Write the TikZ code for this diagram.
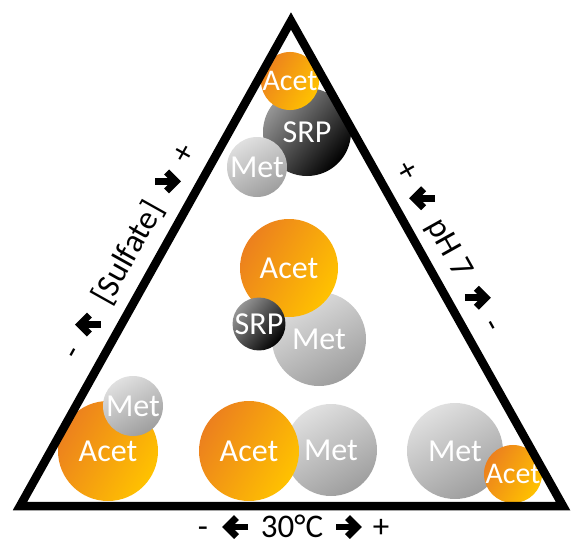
\documentclass[tikz,border=0pt]{standalone}
\usepackage{fontspec}
\setmainfont{Carlito}
\definecolor{acetDeep}{RGB}{236,128,30}
\definecolor{acetSun}{RGB}{255,194,0}
\definecolor{metPale}{RGB}{224,224,224}
\definecolor{metShade}{RGB}{158,158,158}
\definecolor{srpGrey}{RGB}{150,150,150}
\tikzset{
  bubble/.style={circle,inner sep=0pt,minimum size=#1,text=white,font=\fontsize{32}{32}\selectfont},
  acet/.style={bubble=#1,top color=acetDeep,bottom color=acetSun,shading angle=60},
  met/.style={bubble=#1,top color=metPale,bottom color=metShade,shading angle=30},
  srp/.style={bubble=#1,top color=srpGrey,bottom color=black,shading angle=50},
  axislbl/.style={font=\fontsize{33}{33}\selectfont,transform shape,anchor=base,inner sep=0pt},
  fatarrow/.pic={
    \draw[line width=6.5pt] (-13,0) -- (7,0);
    \draw[line width=7pt,line join=miter] (-1.5,-9.5) -- (8,0) -- (-1.5,9.5);
  }
}
\newcommand{\AxisLabel}[8]{%
\begin{scope}[shift={#2},rotate=#3]
  \node[axislbl] (#1) at (0,10) {#4};
  \node[axislbl] (#1Lo) at (-#6,10) {#7};
  \node[axislbl] (#1Hi) at (#6,10) {#8};
  \pic[rotate=180] at (-#5,0) {fatarrow};
  \pic at (#5,0) {fatarrow};
\end{scope}}

\begin{document}
\begin{tikzpicture}[x=1pt,y=-1pt]
\useasboundingbox (0,0) rectangle (573,543);

\node[srp=88] (srpTop) at (307,132) {SRP};
\node[acet=55,font=\fontsize{30}{30}\selectfont] (acetTop) at (290,81) {Acet};
\node[met=60] (metTop) at (257,167) {Met};

\node[met=94] (metMid) at (319,339) {Met};
\node[acet=98] (acetMid) at (289,268) {Acet};
\node[srp=52] (srpMid) at (259,324) {SRP};

\node[acet=100] (acetLeft) at (108,451) {Acet};
\node[met=60] (metLeft) at (133,406) {Met};
\node[met=92] (metCtr) at (331,450) {Met};
\node[acet=100] (acetCtr) at (249,451) {Acet};
\node[met=96] (metRight) at (455,451) {Met};
\node[acet=56,font=\fontsize{30}{30}\selectfont] (acetRight) at (513,474) {Acet};

\coordinate (apex) at (291,21);
\coordinate (cornerL) at (20,506);
\coordinate (cornerR) at (563,506);
\draw[line width=8.5pt,line join=miter] (cornerL) -- (apex) -- (cornerR) -- cycle;

\AxisLabel{sulfate}{(128,253)}{60.75}{[Sulfate]}{82}{114}{-}{+}
\AxisLabel{ph}{(450,248)}{-60.75}{pH 7}{57}{88}{+}{-}
\AxisLabel{temp}{(292,527)}{0}{30°C}{57}{89}{-}{+}
\end{tikzpicture}
\end{document}
